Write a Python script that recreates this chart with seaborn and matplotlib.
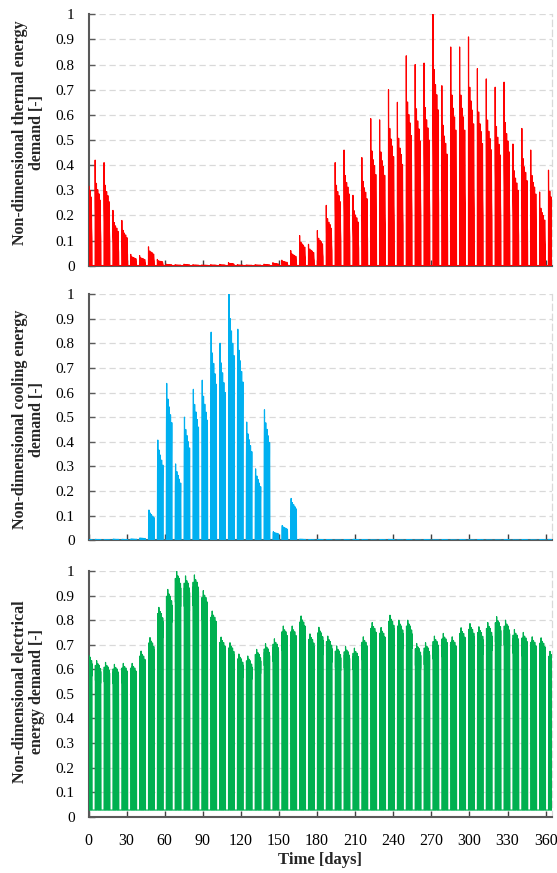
import numpy as np
import pandas as pd
import seaborn as sns
import matplotlib
matplotlib.use("Agg")
import matplotlib.pyplot as plt

sns.set_theme(style="white")
plt.rcParams['font.family'] = ['Liberation Serif', 'DejaVu Serif']

# ---------------- data ----------------
# weekly peak values; index 0 = partial week before first Monday (day 5)
thermal_week_peak = [0.44, 0.42, 0.41, 0.22, 0.18, 0.045, 0.04, 0.075, 0.025, 0.006,
                     0.004, 0.006, 0.004, 0.003, 0.004, 0.005, 0.012, 0.004, 0.003, 0.004,
                     0.006, 0.012, 0.022, 0.06, 0.12, 0.085, 0.14, 0.24, 0.41, 0.46,
                     0.28, 0.43, 0.585, 0.58, 0.70, 0.65, 0.835, 0.80, 0.806, 1.0,
                     0.716, 0.87, 0.87, 0.91, 0.784, 0.743, 0.71, 0.73, 0.484, 0.546,
                     0.46, 0.293, 0.38]
cooling_week_peak = [0.003, 0.004, 0.003, 0.005, 0.004, 0.006, 0.01, 0.123, 0.407, 0.637,
                     0.31, 0.50, 0.613, 0.65, 0.845, 0.80, 1.0, 0.857, 0.48, 0.29,
                     0.53, 0.035, 0.06, 0.17, 0.005, 0.003, 0.004, 0.003, 0.002, 0.003,
                     0.004, 0.003, 0.002, 0.003, 0.004, 0.002, 0.003, 0.002, 0.003, 0.002,
                     0.003, 0.002, 0.003, 0.002, 0.003, 0.002, 0.002, 0.003, 0.002, 0.003,
                     0.002, 0.003, 0.004]
electrical_week_peak = [0.669, 0.635, 0.628, 0.62, 0.624, 0.624, 0.674, 0.729, 0.852, 0.925,
                        1.0, 0.98, 0.984, 0.92, 0.837, 0.731, 0.708, 0.662, 0.654, 0.681,
                        0.704, 0.724, 0.776, 0.776, 0.817, 0.744, 0.771, 0.735, 0.695, 0.692,
                        0.686, 0.732, 0.79, 0.77, 0.82, 0.80, 0.80, 0.705, 0.708, 0.735,
                        0.746, 0.732, 0.769, 0.786, 0.773, 0.79, 0.814, 0.80, 0.762, 0.75,
                        0.732, 0.728, 0.673]

# relative level of each weekday (Mon..Fri); weekends off
thermal_weekday = [1.0, 0.78, 0.72, 0.68, 0.62]
cooling_weekday = [1.0, 0.9, 0.85, 0.8, 0.75]
electrical_weekday = [0.97, 1.0, 0.98, 0.97, 0.95]

# hourly shapes within a working day (fraction of the daily peak)
thermal_profile = [0, 0, 0, 0, 0, 0, 1.0, 0.85, 0.7, 0.62, 0.58, 0.55,
                   0.52, 0.52, 0.5, 0.48, 0.45, 0.40, 0, 0, 0, 0, 0, 0]
cooling_profile = [0, 0, 0, 0, 0, 0, 0, 0.45, 0.6, 0.7, 0.78, 0.85,
                   0.9, 0.95, 1.0, 0.97, 0.9, 0.75, 0, 0, 0, 0, 0, 0]
electrical_profile = [0, 0, 0, 0, 0, 0, 0, 0.5, 0.9, 0.97, 1.0, 0.98,
                      0.9, 0.95, 0.98, 0.96, 0.9, 0.75, 0.4, 0, 0, 0, 0, 0]
electrical_base = 0.027
first_monday = 5

x_ticks = list(range(0, 361, 30))
y_ticks = [0, 0.1, 0.2, 0.3, 0.4, 0.5, 0.6, 0.7, 0.8, 0.9, 1]
y_ticklabels = ['0', '0.1', '0.2', '0.3', '0.4', '0.5', '0.6', '0.7', '0.8', '0.9', '1']

ylabels = ["Non-dimensional thermal energy\ndemand [-]",
           "Non-dimensional cooling energy\ndemand [-]",
           "Non-dimensional electrical\nenergy demand [-]"]
colors = ["#FF0000", "#00B0F0", "#00B050"]
xlabel = "Time [days]"

# ---------------- build hourly table ----------------
hours = np.arange(365 * 24)
day = hours // 24
hr = hours % 24
dow = (day - first_monday) % 7
week = (day - first_monday) // 7 + 1
work = dow < 5
dsafe = np.minimum(dow, 4)


def series(week_peak, weekday, profile):
    wp = np.asarray(week_peak)[week]
    wf = np.where(work, np.asarray(weekday)[dsafe], 0.0)
    return wp * wf * np.asarray(profile)[hr]


df = pd.DataFrame({
    "day": hours / 24.0,
    "thermal": series(thermal_week_peak, thermal_weekday, thermal_profile),
    "cooling": series(cooling_week_peak, cooling_weekday, cooling_profile),
    "electrical": np.maximum(electrical_base,
                             series(electrical_week_peak, electrical_weekday, electrical_profile)),
})

# ---------------- figure ----------------
fig = plt.figure(figsize=(5.57, 8.73), dpi=100)
left = 88.5 / 557
width = (552 - 88.5) / 557
panels = [(14.3, 265.7), (294.0, 540.3), (571.0, 816.7)]
cols = ["thermal", "cooling", "electrical"]
label_y = [0.53, 0.49, 0.51]

for i, ((top_px, bot_px), col) in enumerate(zip(panels, cols)):
    ax = fig.add_axes([left, 1 - bot_px / 873, width, (bot_px - top_px) / 873])
    sns.lineplot(data=df, x="day", y=col, ax=ax, color=colors[i],
                 linewidth=0.85, estimator=None, sort=False, zorder=3)
    ax.set_xlim(0, 365)
    ax.set_ylim(0, 1)
    ax.set_yticks(y_ticks)
    ax.set_yticklabels(y_ticklabels, fontsize=11)
    ax.set_xticks(x_ticks)
    if i == 2:
        ax.set_xticklabels([str(t) for t in x_ticks], fontsize=11.5)
        ax.set_xlabel(xlabel, fontsize=12, fontweight="bold", labelpad=2)
    else:
        ax.set_xticklabels([])
        ax.set_xlabel("")
    ax.set_ylabel(ylabels[i], fontsize=11.5, fontweight="bold", linespacing=1.1)
    ax.yaxis.set_label_coords(-0.093, label_y[i])
    ax.grid(axis="y", color="#d9d9d9", linestyle=(0, (5, 3)), linewidth=0.9)
    ax.grid(axis="x", visible=False)
    ax.set_axisbelow(True)
    for s in ["left", "bottom"]:
        ax.spines[s].set_color("#595959")
        ax.spines[s].set_linewidth(1.5)
    ax.spines["top"].set_visible(False)
    ax.spines["right"].set_color("#d9d9d9")
    ax.spines["right"].set_linestyle((0, (5, 3)))
    ax.spines["right"].set_linewidth(0.9)
    ax.tick_params(axis="y", direction="in", length=4, color="#595959", width=1,
                   pad=10, labelcolor="black", left=True)
    ax.tick_params(axis="x", direction="in", length=4, color="#404040", width=1,
                   pad=12, labelcolor="black", bottom=True)

fig.savefig("out.png", dpi=100)
